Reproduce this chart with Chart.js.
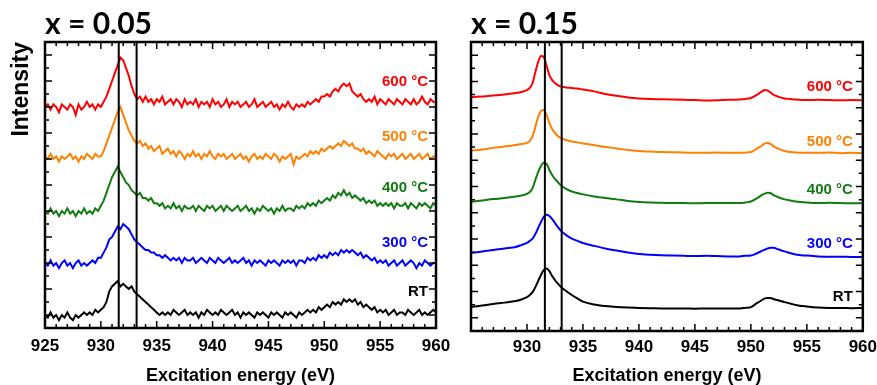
<!DOCTYPE html>
<html lang="en">
<head>
<meta charset="UTF-8" />
<title>O K-edge spectra</title>
<script src="https://cdn.jsdelivr.net/npm/chart.js@4.4.0/dist/chart.umd.min.js"></script>
<style>
  body { margin: 0; background: #fff; }
  #wrap { position: relative; width: 877px; height: 385px; }
  .panel { position: absolute; top: 0; height: 385px; }
</style>
</head>
<body>
<div id="wrap">
  <div class="panel" style="left:0;width:455px"><canvas id="left"></canvas></div>
  <div class="panel" style="left:440px;width:437px"><canvas id="right"></canvas></div>
</div>
<script>
// series labels and colours (top to bottom)
const tempLabels = ['600 °C', '500 °C', '400 °C', '300 °C', 'RT'];
const seriesColors = ['#ff0000', '#ff8000', '#107c10', '#0000ff', '#000000'];

// x = 0.05 panel, noisy spectra (offset-stacked, arb. units)
const leftEnergy = [
  925,925.25,925.5,925.75, 926,926.25,926.5,926.75, 927,927.25,927.5,927.75,
  928,928.25,928.5,928.75, 929,929.25,929.5,929.75, 930,930.25,930.5,930.75,
  931,931.25,931.5,931.75, 932,932.25,932.5,932.75, 933,933.25,933.5,933.75,
  934,934.25,934.5,934.75, 935,935.25,935.5,935.75, 936,936.25,936.5,936.75,
  937,937.25,937.5,937.75, 938,938.25,938.5,938.75, 939,939.25,939.5,939.75,
  940,940.25,940.5,940.75, 941,941.25,941.5,941.75, 942,942.25,942.5,942.75,
  943,943.25,943.5,943.75, 944,944.25,944.5,944.75, 945,945.25,945.5,945.75,
  946,946.25,946.5,946.75, 947,947.25,947.5,947.75, 948,948.25,948.5,948.75,
  949,949.25,949.5,949.75, 950,950.25,950.5,950.75, 951,951.25,951.5,951.75,
  952,952.25,952.5,952.75, 953,953.25,953.5,953.75, 954,954.25,954.5,954.75,
  955,955.25,955.5,955.75, 956,956.25,956.5,956.75, 957,957.25,957.5,957.75,
  958,958.25,958.5,958.75, 959,959.25,959.5,959.75, 960
];
const left600 = [
  85,86,84,86, 85,83,86,85, 84,86,85,82, 86,84,85,87, 85,86,84,86, 85,87,89,92,
  95,98,101,104, 103,100,97,93, 90,88,89,87, 89,87,88,86, 88,87,89,86, 87,88,86,88,
  87,85,88,86, 87,86,88,85, 87,86,87,85, 88,86,87,85, 86,88,85,87, 86,87,85,86,
  87,85,86,88, 85,86,87,85, 86,87,85,86, 84,86,85,87, 85,84,86,85, 86,85,87,86,
  87,88,87,89, 89,90,89,91, 92,91,93,94, 93,94,91,90, 89,90,88,87, 88,87,89,86,
  88,87,86,88, 87,86,88,87, 86,88,87,86, 88,86,87,89, 87,86,88,87, 87
];
const left500 = [
  66,65,67,65, 66,64,66,65, 66,67,65,66, 64,66,65,67, 66,65,67,66, 66,68,71,74,
  77,80,83,85, 82,79,76,74, 72,71,72,70, 71,69,70,68, 69,70,67,68, 69,67,68,66,
  68,67,65,67, 66,68,66,67, 65,67,66,68, 66,65,67,66, 67,65,66,67, 65,66,67,65,
  66,64,66,67, 65,66,65,67, 66,65,67,66, 64,66,65,66, 67,63,66,65, 66,67,66,68,
  67,68,67,69, 68,69,70,69, 70,71,70,72, 71,70,71,69, 69,68,69,67, 68,67,66,68,
  67,66,65,67, 66,67,65,66, 67,65,66,67, 65,66,67,65, 66,67,65,66, 66
];
const left400 = [
  45,44,46,44, 45,43,45,44, 46,44,45,43, 45,44,46,44, 45,44,46,45, 47,49,52,55,
  58,60,62,60, 58,56,55,53, 52,51,52,50, 50,49,50,48, 48,47,48,46, 47,46,48,46,
  47,45,47,46, 46,47,45,47, 46,45,47,46, 47,45,46,47, 45,47,46,45, 46,47,45,46,
  47,45,46,44, 46,45,47,46, 45,46,44,46, 45,47,45,46, 46,45,47,46, 47,46,48,47,
  48,47,49,48, 49,50,49,51, 50,52,51,53, 51,52,50,51, 50,49,50,48, 49,48,49,47,
  48,47,48,47, 48,46,48,47, 47,48,46,48, 47,46,48,47, 48,47,46,48, 47
];
const left300 = [
  25,24,26,24, 25,23,25,26, 24,25,23,25, 26,24,25,24, 25,26,25,27, 27,29,31,34,
  35,37,39,38, 40,39,38,36, 34,33,32,31, 30,30,29,29, 28,28,27,28, 27,26,27,26,
  27,25,27,26, 26,27,25,26, 27,26,25,27, 26,25,27,26, 25,26,27,25, 26,25,26,27,
  25,26,24,26, 25,26,25,24, 26,25,26,25, 24,26,25,26, 25,26,24,26, 26,25,27,26,
  27,26,28,27, 28,27,29,28, 29,28,30,29, 30,29,30,29, 28,29,27,28, 27,26,27,25,
  26,25,26,24, 25,26,24,25, 26,24,25,26, 25,23,25,24, 26,25,24,25, 25
];
const leftRT = [
  5,4,6,4, 5,3,5,4, 6,4,3,5, 4,5,6,5, 6,5,7,6, 7,8,10,14,
  16,17,18,16, 17,16,15,16, 14,13,12,11, 10,9,8,7, 6,5,6,5, 6,5,7,6,
  5,6,7,5, 6,5,6,4, 6,5,7,6, 5,6,5,7, 6,5,6,7, 5,6,4,6,
  5,6,5,4, 6,5,6,5, 4,6,5,6, 5,4,6,5, 6,5,4,6, 5,6,7,6,
  7,6,8,7, 8,9,8,10, 9,10,9,11, 10,11,10,11, 9,10,8,9, 8,7,8,6,
  7,6,7,5, 6,7,5,6, 6,5,7,6, 5,6,7,5, 6,5,6,7, 6
];

// x = 0.15 panel, smooth spectra
const rightEnergy = [
  925,926,927,928,929,929.5,930,930.25,930.5,930.75,
  931,931.25,931.5,931.75,932,932.25,932.5,932.75,933,933.5,
  934,934.5,935,936,937,938,939,940,941,942,
  943,944,945,946,947,948,949,949.5,950,950.5,
  951,951.25,951.5,951.75,952,952.5,953,953.5,954,955,
  956,957,958,959,960
];
const right600 = [
  89.0,89.3,89.6,90.0,90.6,91.0,91.7,92.5,94.4,98.6,
  102.4,104.7,104.3,100.9,97.4,95.5,94.4,93.6,93.1,92.7,
  92.5,92.3,91.9,91.2,90.2,89.5,88.9,88.5,88.3,88.2,
  88.1,88.0,87.9,87.7,87.8,88.0,88.1,88.3,88.7,89.8,
  91.2,91.7,91.5,90.8,90.0,89.1,88.5,88.3,88.1,87.9,
  88.0,87.9,87.8,87.9,87.8
];
const right500 = [
  68.6,69.1,69.7,70.2,70.8,71.2,71.6,72.3,74.2,77.7,
  81.5,83.7,84.1,82.2,79.2,76.9,75.4,74.2,73.5,72.7,
  72.1,71.8,71.4,70.8,70.0,69.5,68.9,68.5,68.3,68.1,
  68.0,67.9,67.8,67.8,67.9,67.8,67.8,67.9,68.1,69.3,
  70.6,71.4,71.6,71.2,70.4,69.3,68.5,68.1,67.9,67.8,
  67.8,67.9,67.7,67.8,67.7
];
const right400 = [
  49.2,49.7,50.2,50.6,51.2,51.6,52.2,52.9,54.4,57.5,
  60.5,62.8,64.0,63.6,61.3,59.4,57.9,56.7,55.6,54.1,
  53.1,52.5,52.0,51.2,50.6,50.1,49.5,49.1,48.9,48.8,
  48.7,48.7,48.6,48.7,48.7,48.7,48.7,48.9,49.3,50.4,
  51.8,52.3,52.6,52.5,51.8,50.8,50.1,49.7,49.3,48.9,
  48.7,48.8,48.7,48.6,48.7
];
const right300 = [
  29.7,30.3,30.8,31.4,32.0,32.7,33.5,34.3,35.2,36.9,
  39.2,41.5,43.4,44.2,43.8,42.6,41.1,39.6,38.3,36.5,
  35.2,34.3,33.5,32.4,31.4,30.6,29.9,29.3,29.0,28.8,
  28.7,28.6,28.5,28.6,28.5,28.4,28.4,28.6,28.7,29.5,
  30.5,31.0,31.4,31.7,31.7,31.0,30.3,29.7,29.1,28.7,
  28.4,28.3,28.3,28.2,28.2
];
const rightRT = [
  9.2,9.7,10.3,10.8,11.4,12.0,12.9,13.7,14.8,16.7,
  19.0,21.3,23.2,23.8,22.8,20.9,19.4,18.1,16.9,15.2,
  13.7,12.4,11.2,10.1,9.5,9.1,8.9,8.8,8.7,8.6,
  8.6,8.6,8.5,8.6,8.6,8.6,8.6,8.8,9.1,10.5,
  11.8,12.4,12.6,12.6,12.2,11.6,11.0,10.5,9.9,9.3,
  8.9,8.8,8.8,8.7,8.8
];

// vertical reference lines (eV)
const refLinesLeft = [931.6, 933.2];
const refLinesRight = [931.6, 933.1];

const xMin = 925, xMax = 960, yMin = 0, yMax = 110;
const arial = '"Liberation Sans", Arial, sans-serif';

// box with inward ticks on all four sides
const framePlugin = {
  id: 'frame',
  afterDatasetsDraw(chart) {
    const { ctx, chartArea: a, scales: { x, y } } = chart;
    ctx.save();
    ctx.strokeStyle = '#000';
    ctx.lineWidth = 1.5;
    ctx.beginPath();
    for (let e = xMin; e <= xMax; e += 1) {
      const px = x.getPixelForValue(e);
      const len = e % 5 === 0 ? 7 : 4;
      ctx.moveTo(px, a.bottom); ctx.lineTo(px, a.bottom - len);
      ctx.moveTo(px, a.top); ctx.lineTo(px, a.top + len);
    }
    for (let v = yMin + 5; v < yMax; v += 5) {
      const py = y.getPixelForValue(v);
      const len = v % 10 === 5 ? 7 : 4;
      ctx.moveTo(a.left, py); ctx.lineTo(a.left + len, py);
      ctx.moveTo(a.right, py); ctx.lineTo(a.right - len, py);
    }
    ctx.stroke();
    ctx.lineWidth = 2.5;
    ctx.strokeRect(a.left, a.top, a.width, a.height);
    ctx.restore();
  }
};

// temperature labels at the right of each trace
function labelPlugin(labelY, inset) {
  return {
    id: 'tempLabels',
    afterDatasetsDraw(chart) {
      const { ctx, chartArea: a, scales: { y } } = chart;
      ctx.save();
      ctx.font = 'bold 15px ' + arial;
      ctx.textAlign = 'right';
      ctx.textBaseline = 'middle';
      tempLabels.forEach((t, i) => {
        ctx.fillStyle = seriesColors[i];
        ctx.fillText(t, a.right - inset, y.getPixelForValue(labelY[i]));
      });
      ctx.restore();
    }
  };
}

function makeChart(id, cfg) {
  const spectra = cfg.series.map((vals, i) => ({
    data: cfg.energy.map((e, j) => ({ x: e, y: vals[j] })),
    borderColor: seriesColors[i],
    borderWidth: cfg.lineWidth,
    pointRadius: 0,
    tension: 0,
    cubicInterpolationMode: cfg.smooth ? 'monotone' : 'default',
    order: 1
  }));
  const vlines = cfg.refLines.map(e => ({
    data: [{ x: e, y: yMin }, { x: e, y: yMax }],
    borderColor: '#000',
    borderWidth: 2,
    pointRadius: 0,
    order: 0
  }));

  return new Chart(document.getElementById(id), {
    type: 'line',
    data: { datasets: vlines.concat(spectra) },
    options: {
      responsive: true,
      maintainAspectRatio: false,
      animation: false,
      layout: { padding: { left: 0, right: cfg.padRight, top: 0, bottom: 0 } },
      plugins: {
        legend: { display: false },
        tooltip: { enabled: false },
        title: {
          display: true,
          text: cfg.title,
          align: 'start',
          fullSize: false,
          color: '#000',
          font: { family: 'Lato, ' + arial, size: 30, weight: 'bold', lineHeight: 1.2 },
          padding: { top: 6, bottom: 0 }
        }
      },
      scales: {
        x: {
          type: 'linear',
          min: xMin,
          max: xMax,
          // ticks are drawn inward by the frame plugin; tickLength only offsets the labels
          grid: { display: false, drawTicks: true, tickLength: cfg.tickPad },
          border: { display: false },
          ticks: {
            stepSize: 5,
            autoSkip: false,
            maxRotation: 0,
            padding: 0,
            color: '#000',
            font: { family: arial, size: 17, weight: 'bold' },
            callback: v => (cfg.hideFirst && v === xMin ? '' : v)
          },
          title: {
            display: true,
            text: 'Excitation energy (eV)',
            color: '#000',
            font: { family: arial, size: 18, weight: 'bold', lineHeight: 1 },
            padding: { top: 0, bottom: 0 }
          },
          afterFit: s => { s.height = cfg.xHeight; }
        },
        y: {
          type: 'linear',
          min: yMin,
          max: yMax,
          grid: { display: false, drawTicks: false },
          border: { display: false },
          ticks: { display: false },
          title: {
            display: cfg.yTitle,
            text: 'Intensity',
            align: 'end',
            color: '#000',
            font: { family: arial, size: 23, weight: 'bold', lineHeight: 1 },
            padding: { top: 10, bottom: 0 }
          },
          afterFit: s => { s.width = cfg.yWidth; }
        }
      }
    },
    plugins: [framePlugin, labelPlugin(cfg.labelY, cfg.labelInset)]
  });
}

makeChart('left', {
  title: 'x = 0.05',
  energy: leftEnergy,
  series: [left600, left500, left400, left300, leftRT],
  refLines: refLinesLeft,
  lineWidth: 2,
  smooth: false,
  yTitle: true,
  yWidth: 45,
  xHeight: 57,
  padRight: 19,
  tickPad: 8,
  hideFirst: false,
  labelY: [94.6, 73.5, 53.8, 32.7, 13.8],
  labelInset: 8
});

makeChart('right', {
  title: 'x = 0.15',
  energy: rightEnergy,
  series: [right600, right500, right400, right300, rightRT],
  refLines: refLinesRight,
  lineWidth: 2,
  smooth: true,
  yTitle: false,
  yWidth: 31,
  xHeight: 54,
  padRight: 14,
  tickPad: 6,
  hideFirst: true,
  labelY: [92.9, 71.9, 53.7, 33.1, 12.9],
  labelInset: 10
});
</script>
</body>
</html>
